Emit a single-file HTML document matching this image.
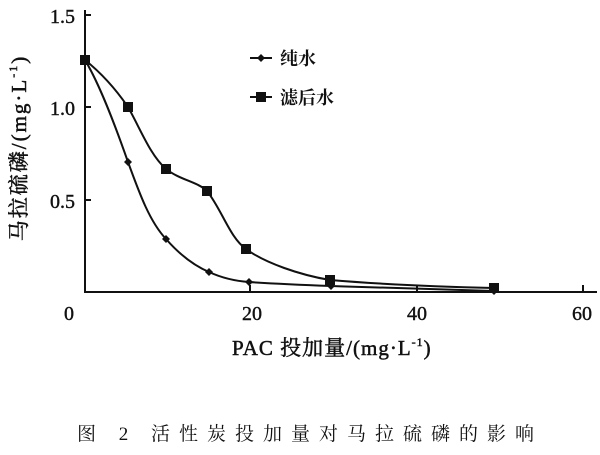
<!DOCTYPE html>
<html><head><meta charset="utf-8"><style>
body{margin:0;background:#fff;width:600px;height:450px;overflow:hidden}
svg text{font-family:"Liberation Serif","Noto Serif CJK SC",serif;fill:#111}
</style></head><body>
<svg width="600" height="450" viewBox="0 0 600 450">
<g stroke="#111" stroke-width="2" fill="none">
<line x1="85" y1="10" x2="85" y2="293"/>
<line x1="84" y1="292" x2="597" y2="292"/>
<line x1="85" y1="15" x2="91" y2="15"/>
<line x1="85" y1="107" x2="91" y2="107"/>
<line x1="85" y1="200" x2="91" y2="200"/>
<line x1="250" y1="292" x2="250" y2="285"/>
<line x1="417" y1="292" x2="417" y2="285"/>
<line x1="583" y1="292" x2="583" y2="285"/>
<path d="M85,60 C100,85 115,125 128,162 C140,195 150,222 166,239 C180,255 195,266 209,272 C222,278 235,281 249,282 C280,284 305,285 331,286 C390,288 450,290 494,291"/>
<path d="M85,60 C100,72 115,88 128,107 C140,128 150,155 166,169 C180,180 198,182 207,191 C222,210 230,238 246,249 C265,263 300,275 330,280 C390,285 450,287 494,288"/>
<line x1="250" y1="58" x2="272" y2="58"/>
<line x1="250" y1="97" x2="272" y2="97"/>
</g>
<g fill="#111">
<rect x="80" y="55" width="10" height="10"/>
<rect x="123" y="102" width="10" height="10"/>
<rect x="161" y="164" width="10" height="10"/>
<rect x="202" y="186" width="10" height="10"/>
<rect x="241" y="244" width="10" height="10"/>
<rect x="325" y="275" width="10" height="10"/>
<rect x="489" y="283" width="10" height="10"/>
<rect x="256" y="92" width="10" height="10"/>
<path d="M128,158l4,4l-4,4l-4-4z"/>
<path d="M166,235l4,4l-4,4l-4-4z"/>
<path d="M209,268l4,4l-4,4l-4-4z"/>
<path d="M249,278l4,4l-4,4l-4-4z"/>
<path d="M331,282l4,4l-4,4l-4-4z"/>
<path d="M494,287l4,4l-4,4l-4-4z"/>
<path d="M261,54l4,4l-4,4l-4-4z"/>
</g>
<g font-size="20" text-anchor="end" stroke="#111" stroke-width="0.4">
<text x="75" y="23">1.5</text>
<text x="75" y="115">1.0</text>
<text x="75" y="208">0.5</text>
</g>
<g font-size="20" text-anchor="middle" stroke="#111" stroke-width="0.4">
<text x="69" y="320">0</text>
<text x="252" y="320">20</text>
<text x="417" y="320">40</text>
<text x="582" y="320">60</text>
</g>
<text x="280" y="65" font-size="18" font-weight="bold">纯水</text>
<text x="280" y="104" font-size="18" font-weight="bold">滤后水</text>
<text x="232" y="355" font-size="21" letter-spacing="1" stroke="#111" stroke-width="0.5">PAC 投加量/(mg·L<tspan font-size="12" dy="-9">-1</tspan><tspan dy="9">)</tspan></text>
<text transform="translate(26,148) rotate(-90)" font-size="21" letter-spacing="2" stroke="#111" stroke-width="0.5" text-anchor="middle">马拉硫磷/(mg·L<tspan font-size="12" dy="-9">-1</tspan><tspan dy="9">)</tspan></text>
<text x="310" y="440" font-size="19" text-anchor="middle" letter-spacing="9">图 2 活性炭投加量对马拉硫磷的影响</text>
</svg>
</body></html>
